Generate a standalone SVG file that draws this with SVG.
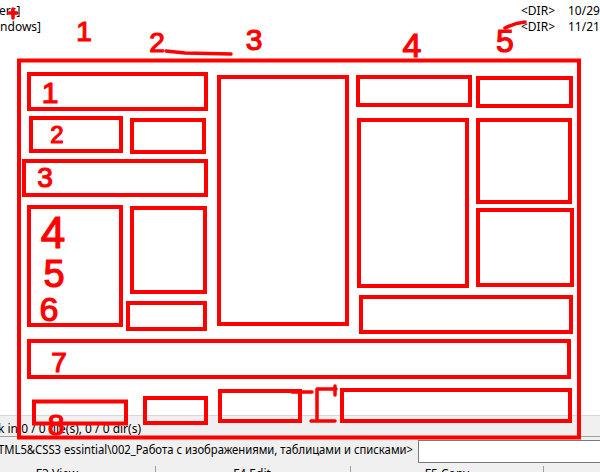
<svg xmlns="http://www.w3.org/2000/svg" width="600" height="472" viewBox="0 0 600 472">
<style>
.ui{font-family:"Noto Sans","DejaVu Sans",sans-serif;font-size:12px;fill:#000}
.box{fill:none;stroke:#ff0000;stroke-width:4}
.mark{fill:none;stroke:#ff0000;stroke-width:3.5;stroke-linecap:round;stroke-linejoin:round}
.num{font-family:"Liberation Sans",Arial,sans-serif;fill:#ff0000;stroke:#ff0000;stroke-width:1.2;text-anchor:middle}
</style>
<rect width="600" height="472" fill="#ffffff"/>
<g id="background">
  <text class="ui" x="-1" y="15">ers]</text>
  <text class="ui" x="-3" y="31">indows]</text>
  <text class="ui" x="521" y="15">&lt;DIR&gt;</text>
  <text class="ui" x="568" y="15">10/29</text>
  <text class="ui" x="521" y="31">&lt;DIR&gt;</text>
  <text class="ui" x="568" y="31">11/21</text>
  <rect x="0" y="415" width="600" height="22" fill="#f0f0f0"/>
  <line x1="0" y1="415.5" x2="600" y2="415.5" stroke="#d7d7d7"/>
  <line x1="0" y1="436.5" x2="600" y2="436.5" stroke="#a0a0a0"/>
  <text class="ui" x="-2" y="433">k in 0 / 0 file(s), 0 / 0 dir(s)</text>
  <rect x="0" y="437" width="600" height="35" fill="#f0f0f0"/>
  <text class="ui" x="-2" y="454" textLength="415" lengthAdjust="spacingAndGlyphs">TML5&amp;CSS3 essintial\002_Работа с изображениями, таблицами и списками&gt;</text>
  <rect x="418.5" y="440.5" width="190" height="22" fill="#ffffff" stroke="#7a7a7a"/>
  <line x1="155.5" y1="466" x2="155.5" y2="472" stroke="#a0a0a0"/>
  <line x1="350.5" y1="466" x2="350.5" y2="472" stroke="#a0a0a0"/>
  <line x1="543.5" y1="466" x2="543.5" y2="472" stroke="#a0a0a0"/>
  <text class="ui" x="57" y="478" text-anchor="middle">F3 View</text>
  <text class="ui" x="252" y="478" text-anchor="middle">F4 Edit</text>
  <text class="ui" x="447" y="478" text-anchor="middle">F5 Copy</text>
</g>
<g id="column-numbers">
  <text class="num" x="84" y="41" font-size="28">1</text>
  <text class="num" x="157" y="52" font-size="28">2</text>
  <text class="num" x="254" y="50" font-size="30">3</text>
  <text class="num" x="412" y="57" font-size="34">4</text>
  <text class="num" x="505" y="52" font-size="32">5</text>
</g>
<g id="connectors">
  <path class="mark" d="M166,51 L185,53 L231,54"/>
  <path class="mark" d="M505,28 Q515,23 525,22"/>
  <path class="mark" d="M9,13 H17 M13,9 V18" stroke-width="2"/>
  <path class="mark" d="M292,392 H312"/>
  <path class="mark" d="M336,389 H317 V421 M311,421 H335 M335,386 V395"/>
</g>
<g id="frame"><rect class="box" x="19" y="60.5" width="560" height="377"/></g>
<g id="n1"><rect class="box" x="29" y="74" width="177" height="35"/><text class="num" x="50" y="103" font-size="30">1</text></g>
<g id="n2"><rect class="box" x="31" y="118" width="90" height="33"/><text class="num" x="57" y="143" font-size="24">2</text></g>
<g id="n2b"><rect class="box" x="132" y="120" width="72" height="32"/></g>
<g id="n3"><rect class="box" x="24" y="161" width="182" height="34"/><text class="num" x="45" y="187" font-size="28">3</text></g>
<g id="n456"><rect class="box" x="29" y="207" width="92" height="118"/>
  <text class="num" x="53" y="248" font-size="44">4</text>
  <text class="num" x="54" y="287" font-size="38">5</text>
  <text class="num" x="49" y="321" font-size="34">6</text></g>
<g id="n4b"><rect class="box" x="132" y="208" width="73" height="84"/></g>
<g id="n6b"><rect class="box" x="128" y="303" width="77" height="26"/></g>
<g id="n7"><rect class="box" x="29" y="341" width="540" height="36"/><text class="num" x="59" y="372" font-size="28">7</text></g>
<g id="n8"><rect class="box" x="34" y="401.5" width="92" height="22"/><text class="num" x="56" y="435" font-size="30">8</text></g>
<g id="n8b"><rect class="box" x="145" y="398" width="61" height="25"/></g>
<g id="n8c"><rect class="box" x="220" y="391" width="80" height="30"/></g>
<g id="n8d"><rect class="box" x="342" y="390" width="228" height="31"/></g>
<g id="center"><rect class="box" x="219" y="77" width="128" height="247"/></g>
<g id="r1"><rect class="box" x="358" y="77" width="112" height="28"/></g>
<g id="r2"><rect class="box" x="478" y="78" width="93" height="28"/></g>
<g id="r3"><rect class="box" x="359" y="120" width="108" height="166"/></g>
<g id="r4"><rect class="box" x="478" y="120" width="92" height="82"/></g>
<g id="r5"><rect class="box" x="478" y="210" width="94" height="75"/></g>
<g id="r6"><rect class="box" x="361" y="297" width="210" height="35"/></g>
</svg>
